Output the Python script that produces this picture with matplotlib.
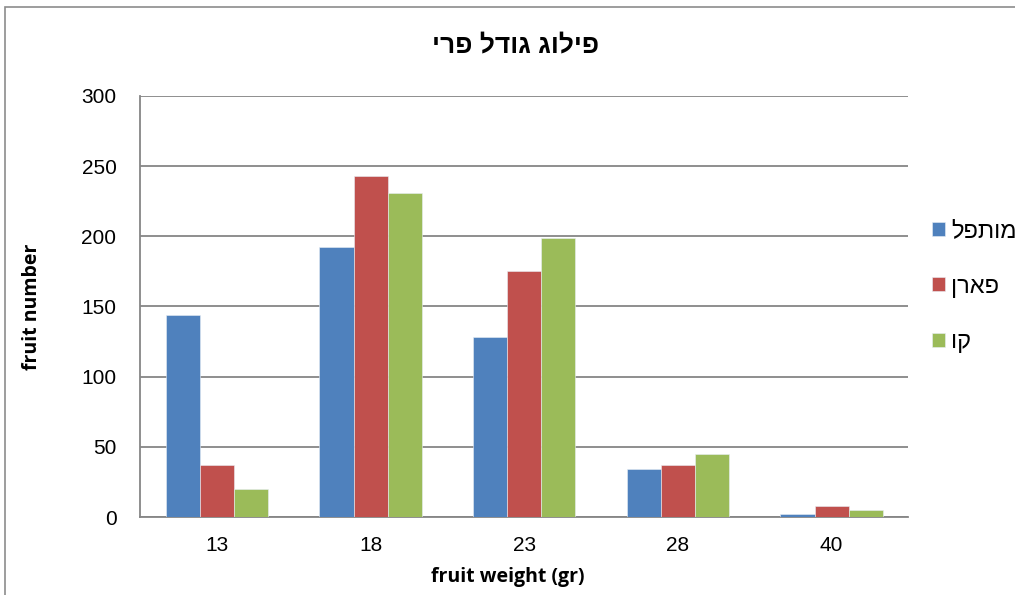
import numpy as np
import matplotlib
matplotlib.use("Agg")
import matplotlib.pyplot as plt
from matplotlib.patches import Rectangle

# fruit size distribution per variety
weights = ["13", "18", "23", "28", "40"]
varieties = ["מותפל", "פארן", "קו"]
motapel = [144, 192, 128, 34, 2]
paran = [37, 243, 175, 37, 8]
ko = [20, 231, 199, 45, 5]
series = [motapel, paran, ko]
colors = ["#4F81BD", "#C0504D", "#9BBB59"]

title = "פילוג גודל פרי"
y_ticks = [0, 50, 100, 150, 200, 250, 300]


def rtl(s):
    # matplotlib has no bidi support, so lay Hebrew out visually
    return s[::-1]


plt.rcParams["font.family"] = ["Liberation Sans", "DejaVu Sans"]
label_font = ["Open Sans", "DejaVu Sans"]

fig = plt.figure(figsize=(10.15, 5.95), dpi=100)
ax = fig.add_axes([0.138, 0.131, 0.757, 0.708])

# outer chart frame
fig.patches.append(Rectangle((0.005, -0.1), 1.2, 1.088, transform=fig.transFigure,
                             fill=False, edgecolor="#8c8c8c", linewidth=1.2))

x = np.arange(len(weights))
width = 0.222
for i, (vals, name, c) in enumerate(zip(series, varieties, colors)):
    ax.bar(x + (i - 1) * width, vals, width, color=c, edgecolor="#e8eef5",
           linewidth=0.4, label=rtl(name), zorder=3)

ax.set_xlim(-0.5, len(weights) - 0.5)
ax.set_ylim(0, 300)
ax.set_yticks(y_ticks)
ax.set_xticks(x)
ax.set_xticklabels(weights)
ax.tick_params(axis="both", length=0, labelsize=15)
ax.tick_params(axis="y", pad=17)
ax.tick_params(axis="x", pad=14)

ax.yaxis.grid(True, color="#868686", linewidth=1.3, zorder=0)
ax.set_axisbelow(True)
for side in ["top", "right"]:
    ax.spines[side].set_visible(False)
for side in ["left", "bottom"]:
    ax.spines[side].set_color("#868686")
    ax.spines[side].set_linewidth(1.3)

ax.set_xlabel("fruit weight (gr)", fontsize=14, fontweight="bold", family=label_font)
ax.set_ylabel("fruit number", fontsize=14, fontweight="bold", family=label_font)
ax.xaxis.set_label_coords(0.478, -0.118)
ax.yaxis.set_label_coords(-0.141, 0.5)
ax.yaxis.label.set_va("center")

fig.text(0.508, 0.924, rtl(title), fontsize=19, fontweight="bold",
         ha="center", va="center")

ax.legend(loc="center left", bbox_to_anchor=(1.031, 0.547), frameon=False,
          fontsize=17, handlelength=0.55, handleheight=0.55,
          handletextpad=0.25, labelspacing=1.42, borderaxespad=0, borderpad=0)

fig.savefig("out.png", dpi=100, facecolor="white")
